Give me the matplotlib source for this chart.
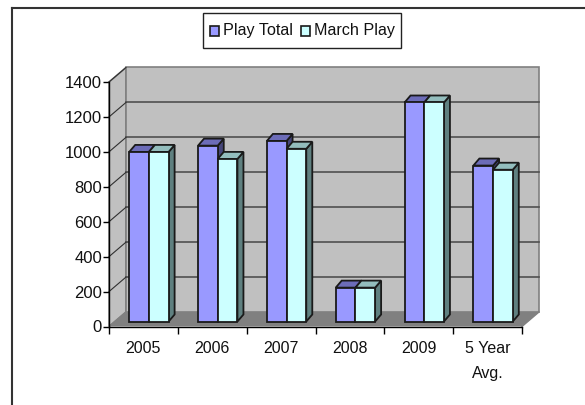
import numpy as np
import matplotlib
matplotlib.use('Agg')
import matplotlib.pyplot as plt
from matplotlib.patches import Polygon, Rectangle

plt.rcParams['font.family'] = ['Liberation Sans', 'DejaVu Sans']

# Data
categories = ['2005', '2006', '2007', '2008', '2009', '5 Year\nAvg.']
play_total = [971, 1007, 1034, 194, 1254, 893]
march_play = [971, 931, 989, 194, 1254, 869]
yticks = np.arange(0, 1401, 200)
series_names = ['Play Total', 'March Play']

W, H = 585, 405
fig = plt.figure(figsize=(W / 100, H / 100), dpi=100)

# outer frame, open on the right and the bottom
fig.add_artist(plt.Line2D([12 / W, 12 / W], [0, 1 - 8 / H], color='#333333', lw=1.5))
fig.add_artist(plt.Line2D([12 / W, 1], [1 - 8 / H, 1 - 8 / H], color='#333333', lw=1.5))

# front plane of the 3D box
x0, x1, y0, y1 = 109, 522, 326.5, 82
ax = fig.add_axes([x0 / W, 1 - y0 / H, (x1 - x0) / W, (y0 - y1) / H])
ax.set_xlim(0, len(categories))
ax.set_ylim(0, 1400)
ax.patch.set_visible(False)
for s in ['top', 'right']:
    ax.spines[s].set_visible(False)
for s in ['left', 'bottom']:
    ax.spines[s].set_color('black')
    ax.spines[s].set_linewidth(1.0)

# depth offset in data units
px_x = len(categories) / (x1 - x0)
px_y = 1400 / (y0 - y1)
dx, dy = 17 * px_x, 14.5 * px_y


def poly(pts, fc, ec='none', lw=0, z=1):
    ax.add_patch(Polygon(pts, closed=True, facecolor=fc, edgecolor=ec, linewidth=lw,
                         zorder=z, clip_on=False))


n = len(categories)
# walls and floor
poly([(0, 0), (dx, dy), (dx, 1400 + dy), (0, 1400)], '#C0C0C0', '#808080', 1.2)
poly([(dx, dy), (n + dx, dy), (n + dx, 1400 + dy), (dx, 1400 + dy)], '#C0C0C0', '#808080', 1.2)
poly([(0, 0), (n, 0), (n + dx, dy), (dx, dy)], '#808080')

# gridlines on back wall and left wall
for v in yticks[1:-1]:
    ax.plot([dx, n + dx], [v + dy, v + dy], color='#505050', lw=1.2, zorder=2, clip_on=False)
for v in yticks[1:]:
    ax.plot([0, dx], [v, v + dy], color='#303030', lw=0.8, zorder=2, clip_on=False)
ax.plot([0, dx], [0, dy], color='#808080', lw=1.0, zorder=2, clip_on=False)
ax.plot([n, n + dx], [0, dy], color='#808080', lw=1.0, zorder=2, clip_on=False)

# bars
bw = 19.7 * px_x
fx, fy = 5.5 * px_x, 5 * px_y     # where the bar front sits on the floor
bx, by = 6 * px_x, 7 * px_y       # depth of a bar
edge = '#1a1a1a'


def bar3d(left, val, front, top, side, z):
    l, r = left + fx, left + fx + bw
    b, t = fy, fy + val
    poly([(r, b), (r + bx, b + by), (r + bx, t + by), (r, t)], side, edge, 1.3, z)
    poly([(l, t), (r, t), (r + bx, t + by), (l + bx, t + by)], top, edge, 1.3, z)
    poly([(l, b), (r, b), (r, t), (l, t)], front, edge, 1.3, z)


for i in range(n):
    mid = i + 0.5
    # left bar goes in first so the right one overlaps its side
    bar3d(mid - bw, play_total[i], '#9999FF', '#6C6CB8', '#45457A', 5 + i)
    bar3d(mid, march_play[i], '#CCFFFF', '#93BDBD', '#5F8080', 5.5 + i)

ax.set_yticks(yticks)
ax.set_xticks(np.arange(n + 1))
ax.set_xticklabels([])
ax.set_xticks(np.arange(n) + 0.5, labels=categories, minor=True)
ax.tick_params(axis='x', which='major', length=5, width=1, color='black')
ax.tick_params(axis='x', which='minor', length=0, pad=10.5)
ax.tick_params(axis='y', length=4, width=1, pad=1)
for lab in ax.get_yticklabels():
    lab.set_fontsize(12)
    lab.set_color('#111111')
for lab in ax.get_xticklabels(minor=True):
    lab.set_fontsize(11.5)
    lab.set_color('#111111')
    lab.set_linespacing(1.8)

# legend box, laid out by hand to get its tight left padding
fig.add_artist(Rectangle((203 / W, 1 - 48 / H), 198 / W, 35 / H, transform=fig.transFigure,
                         facecolor='white', edgecolor='#222222', lw=1.0))
for name, color, kx, tx in zip(series_names, ['#9999FF', '#CCFFFF'], [209.5, 301], [223, 314]):
    fig.add_artist(Rectangle((kx / W, 1 - 36 / H), 9 / W, 10 / H, transform=fig.transFigure,
                             facecolor=color, edgecolor=edge, lw=1.2))
    fig.text(tx / W, 1 - 35 / H, name, fontsize=11.6, color='#111111', va='baseline')

fig.savefig('out.png', dpi=100)
